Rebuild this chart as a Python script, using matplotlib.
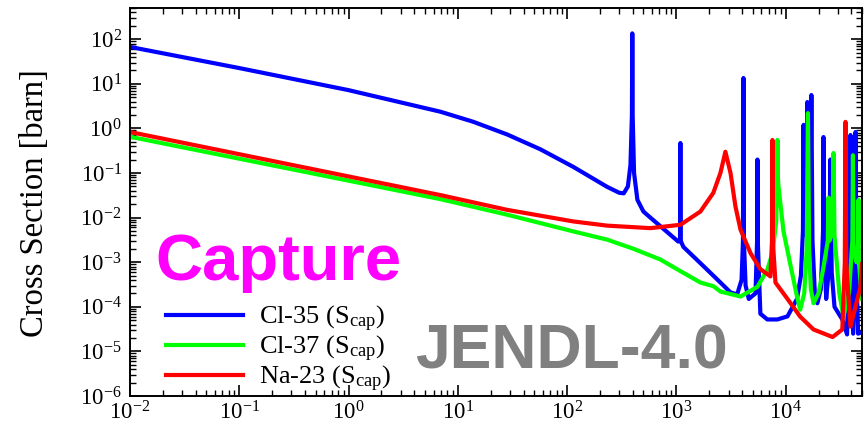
import matplotlib
matplotlib.use("Agg")
from matplotlib import pyplot as plt
from matplotlib.ticker import LogLocator, NullFormatter

# neutron energy [eV] and capture cross section [barn]
cl35_e = [0.01, 0.1, 1, 6.9, 13.8, 28.3, 56.9, 114, 233, 300, 330, 360, 380, 392, 395, 398, 410,
          440, 499, 578, 1040, 1080, 1088, 1096, 1160, 1660, 2530, 3130, 3600, 3950, 4070,
          4110, 4150, 4300, 4600, 5300, 5480, 5520, 5560, 5870, 6800, 8400, 10400, 12700,
          13800, 14400, 14600, 14800, 15400, 15800, 16100, 16800, 17200, 17600, 18500,
          19500, 21000, 22000, 22200, 22400, 23500, 25000, 25700, 26400, 28000, 33000,
          36500, 37800, 38000, 38300, 38900, 39200, 39500, 41500, 43300, 43600, 43900,
          46000, 50000]
cl35_s = [67, 22.5, 7.2, 2.37, 1.41, 0.73, 0.34, 0.137, 0.0487, 0.036, 0.035, 0.05, 0.15, 2, 135, 2, 0.1,
          0.025, 0.0137, 0.01, 2.9e-3, 3e-3, 0.47, 3e-3, 2.2e-3, 9.5e-4, 3.5e-4, 2.1e-4, 1.9e-4, 4e-4, 3e-3,
          13.5, 3e-3, 3e-4, 1.5e-4, 2e-4, 3e-3, 0.2, 3e-3, 7e-5, 5.2e-5, 5.2e-5, 6.1e-5, 1.5e-4,
          5e-4, 5e-3, 1.2, 5e-3, 4e-3, 3.9, 6e-3, 8e-3, 5.6, 3e-3, 2e-4,
          1.2e-4, 2.5e-4, 5e-3, 0.64, 4e-3, 1.5e-4, 8e-4, 0.2, 6e-4, 1e-4, 5.2e-5,
          2.4e-5, 1e-3, 0.08, 1e-3, 2e-3, 0.71, 2e-3, 2.5e-5, 2e-3, 0.83, 2e-3,
          2.5e-5, 2.7e-5]

cl37_e = [0.01, 6.9, 28.3, 114, 233, 404, 713, 1090, 1660, 2180, 2530, 3860, 5520, 6800, 7570,
          8200, 8370, 8410, 8450, 8600, 8970, 9550, 10800, 12700, 13600, 14800, 15600,
          16000, 16400, 17000, 18000, 20000, 22000, 24300, 24700, 25100, 26800, 27400,
          28000, 31000, 33800, 38000, 40800, 41300, 41800, 44500, 46200, 46500, 46800, 50000]
cl37_s = [0.65, 0.026, 0.0116, 4.9e-3, 3.2e-3, 2.0e-3, 1.15e-3, 6.3e-4, 3.5e-4, 2.9e-4, 2.2e-4, 1.7e-4, 2.8e-4, 6.8e-4, 1.6e-3,
          8e-3, 0.1, 0.55, 0.1, 0.05, 0.02, 5e-3, 1.15e-3, 1.7e-4, 8.6e-5, 2e-4, 2e-3,
          2.2, 2e-3, 2.5e-4, 1.2e-4, 2e-4, 6.8e-4, 3e-3, 0.028, 3e-3, 5e-3, 0.28,
          4e-3, 2e-4, 6e-5, 2e-4, 3e-3, 0.25, 2e-3, 1e-3, 3e-3, 0.025, 1e-3, 1.5e-4]

na23_e = [0.01, 6.9, 28.3, 114, 233, 578, 1090, 1660, 2180, 2530, 2810, 3130, 3470, 3860,
          4770, 5870, 7260, 7500, 7570, 7640, 8070, 10400, 13600, 18000, 26900, 33000,
          34800, 35300, 35800, 39200, 48400, 50000]
na23_s = [0.83, 0.032, 0.0149, 8.2e-3, 6.6e-3, 5.8e-3, 6.9e-3, 0.0137, 0.036, 0.1, 0.3, 0.1, 0.018, 5.4e-3,
          1.6e-3, 7e-4, 4.8e-4, 3e-3, 0.55, 3e-3, 3.5e-4, 1.5e-4, 6e-5, 3.1e-5, 2.1e-5, 3.1e-5,
          1e-3, 1.4, 1e-3, 3.6e-5, 2.8e-4, 9e-4]

labels = [r"Cl-35 (S$_{\mathrm{cap}}$)",
          r"Cl-37 (S$_{\mathrm{cap}}$)",
          r"Na-23 (S$_{\mathrm{cap}}$)"]
colors = ["#0000ff", "#00ff00", "#ff0000"]

plt.rcParams["font.family"] = ["Liberation Serif", "DejaVu Serif"]
plt.rcParams["mathtext.fontset"] = "custom"
plt.rcParams["mathtext.rm"] = "Liberation Serif"
plt.rcParams["mathtext.it"] = "Liberation Serif:italic"
plt.rcParams["mathtext.bf"] = "Liberation Serif:bold"

fig = plt.figure(figsize=(8.68, 4.40), dpi=100)
ax = fig.add_axes([0.1498, 0.1, 0.8433, 0.8818])

for e, s, c, lab in zip([cl35_e, cl37_e, na23_e], [cl35_s, cl37_s, na23_s], colors, labels):
    ax.plot(e, s, color=c, lw=3, label=lab)

ax.set_xscale("log")
ax.set_yscale("log")
ax.set_xlim(1e-2, 5e4)
ax.set_ylim(1e-6, 5e2)

ax.xaxis.set_major_locator(LogLocator(base=10, numticks=20))
ax.yaxis.set_major_locator(LogLocator(base=10, numticks=20))
ax.xaxis.set_minor_locator(LogLocator(base=10, subs=range(2, 10), numticks=20))
ax.yaxis.set_minor_locator(LogLocator(base=10, subs=range(2, 10), numticks=20))
ax.xaxis.set_minor_formatter(NullFormatter())
ax.yaxis.set_minor_formatter(NullFormatter())
ax.tick_params(which="both", direction="in", top=True, right=True, labelsize=16.5)
ax.tick_params(which="major", length=8, width=1.2)
ax.tick_params(which="minor", length=4, width=1.0)
ax.tick_params(axis="x", which="major", pad=4)
ax.tick_params(axis="y", which="major", pad=6)
for sp in ax.spines.values():
    sp.set_linewidth(1.4)

ax.set_ylabel("Cross Section [barn]", fontsize=23.5)
ax.yaxis.set_label_coords(-0.109, 0.497)

ax.text(0.034, 0.299, "Capture", transform=ax.transAxes, color="#ff00ff",
        fontsize=47, fontweight="bold", family="Liberation Sans")
ax.text(0.389, 0.072, "JENDL-4.0", transform=ax.transAxes, color="#808080",
        fontsize=45, fontweight="bold", family="Liberation Sans")

ax.legend(loc="lower left", bbox_to_anchor=(0.028, -0.035), frameon=False, fontsize=19,
          handlelength=2.9, handletextpad=0.6, labelspacing=0.0, borderaxespad=0.2)

fig.savefig("out.png", dpi=100)
